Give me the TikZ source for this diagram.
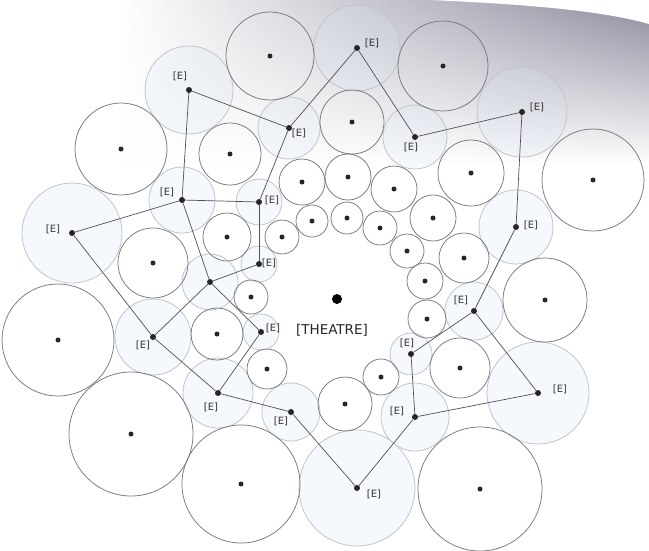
\documentclass[tikz,border=0pt]{standalone}
\usepackage{fontspec}
\setmainfont{DejaVu Sans}
\usetikzlibrary{fadings}
\definecolor{roomline}{RGB}{120,120,124}
\definecolor{entline}{RGB}{192,198,205}
\definecolor{entfill}{RGB}{212,226,242}
\definecolor{linkc}{RGB}{80,80,85}
\definecolor{shadetop}{RGB}{140,138,156}
\tikzfading[name=fadeleft, left color=transparent!100, middle color=transparent!5, right color=transparent!0]
\begin{document}
\begin{tikzpicture}[x=1pt,y=-1pt,
  roomcirc/.style={draw=roomline, line width=0.75pt},
  entcirc/.style={draw=entline, line width=0.8pt, fill=entfill, fill opacity=0.22},
  edot/.style={circle, fill=black!85, inner sep=0pt, minimum size=6pt},
  rdot/.style={circle, fill=black!85, inner sep=0pt, minimum size=5pt},
  link/.style={draw=linkc, line width=0.7pt},
  elab/.style={font=\fontsize{10}{11}\selectfont, text=black!80, inner sep=0pt},
]
\useasboundingbox (0,0) rectangle (649,550);
\fill[white] (0,0) rectangle (649,550);
% scan shading at the top
\shade[top color=shadetop, bottom color=white, path fading=fadeleft] (120,0) rectangle (649,165);
\fill[white] (430,0) .. controls (520,4) and (600,10) .. (649,24) -- (649,0) -- cycle;

% entrance (faint) circles
\foreach \x/\y/\r in {189/90/44, 289/128/31, 357/48/43, 415/137/32, 522/112/45,
  516/227/37, 474/311/29, 538/393/51, 415/417/34, 411/354/21, 357/488/58,
  291/412/29, 218/393/35, 261/332/18, 153/337/38, 210/282/28, 259/264/18,
  259/202/23, 182/200/33, 72/233/50}
  \path[entcirc] (\x,\y) circle[radius=\r pt];

% room circles
\foreach \x/\y/\r/\n in {121/149/46/1, 270/56/44/2, 443/66/45/3, 593/180/51/4,
  545/300/42/5, 480/489/62/6, 241/484/59/7, 131/434/62/8, 58/340/56/9,
  230/154/31/10, 352/122/32/11, 471/173/33/12, 464/258/25/13, 460/368/30/14,
  345/404/27/15, 217/334/26/16, 153/263/35/17, 227/237/24/18, 302/182/23/19,
  348/177/23/20, 394/189/23/21, 433/218/23/22, 312/221/16/23, 347/218/16/24,
  380/228/17/25, 407/251/17/26, 425/281/18/27, 427/319/19/28, 381/377/18/29,
  267/369/20/30, 251/297/17/31, 282/237/17/32}
{
  \draw[roomcirc] (\x,\y) circle[radius=\r pt];
  \node[rdot] (r\n) at (\x,\y) {};
}

% entrance nodes
\node[edot] (e1) at (189,90) {};
\node[edot] (e2) at (289,128) {};
\node[edot] (e3) at (357,48) {};
\node[edot] (e4) at (415,137) {};
\node[edot] (e5) at (522,112) {};
\node[edot] (e6) at (516,227) {};
\node[edot] (e7) at (474,311) {};
\node[edot] (e8) at (538,393) {};
\node[edot] (e9) at (415,417) {};
\node[edot] (e10) at (411,354) {};
\node[edot] (e11) at (357,488) {};
\node[edot] (e12) at (291,412) {};
\node[edot] (e13) at (218,393) {};
\node[edot] (e15) at (261,332) {};
\node[edot] (e16) at (153,337) {};
\node[edot] (e17) at (210,282) {};
\node[edot] (e18) at (259,264) {};
\node[edot] (e19) at (259,202) {};
\node[edot] (e20) at (182,200) {};
\node[edot] (e21) at (72,233) {};

% connectors
\foreach \a/\b in {e1/e2, e1/e20, e20/e21, e20/e19, e20/e17, e21/e16, e16/e17,
  e16/e13, e13/e12, e13/e15, e15/e17, e17/e18, e18/e19, e19/e2, e2/e3, e3/e4,
  e4/e5, e5/e6, e6/e7, e7/e8, e7/e10, e8/e9, e9/e10, e9/e11, e11/e12}
  \draw[link] (\a) -- (\b);

% labels
\node[elab] (l1) at (180,76) {[E]};
\node[elab] (l2) at (299,133) {[E]};
\node[elab] (l3) at (372,43) {[E]};
\node[elab] (l4) at (411,147) {[E]};
\node[elab] (l5) at (537,107) {[E]};
\node[elab] (l6) at (531,225) {[E]};
\node[elab] (l7) at (461,300) {[E]};
\node[elab] (l8) at (560,389) {[E]};
\node[elab] (l9) at (397,411) {[E]};
\node[elab] (l10) at (407,343) {[E]};
\node[elab] (l11) at (374,494) {[E]};
\node[elab] (l12) at (281,421) {[E]};
\node[elab] (l13) at (211,407) {[E]};
\node[elab] (l15) at (273,328) {[E]};
\node[elab] (l16) at (143,345) {[E]};
\node[elab] (l18) at (269,263) {[E]};
\node[elab] (l19) at (272,200) {[E]};
\node[elab] (l20) at (167,192) {[E]};
\node[elab] (l21) at (53,229) {[E]};

% theatre
\node[circle, fill=black, inner sep=0pt, minimum size=10pt] (theatre) at (337,299) {};
\node[font=\fontsize{13.5}{15}\selectfont, text=black!85, inner sep=0pt] (thlab) at (332,330) {[THEATRE]};
\end{tikzpicture}
\end{document}
